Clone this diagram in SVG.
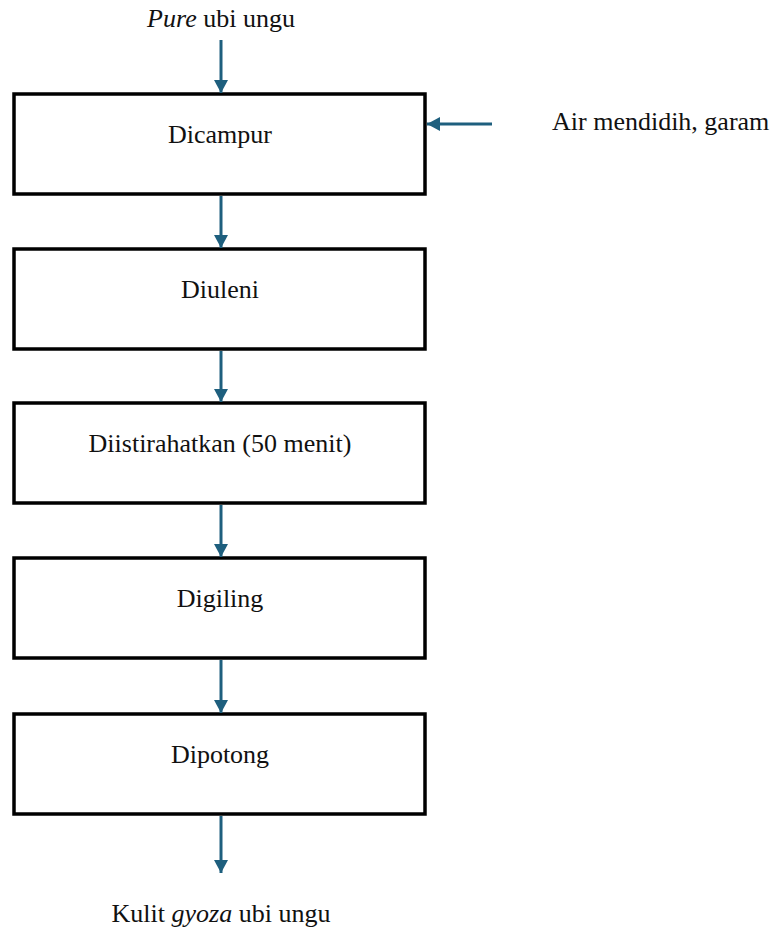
<svg xmlns="http://www.w3.org/2000/svg" width="782" height="931" viewBox="0 0 782 931">
<style>
.box{fill:#ffffff;stroke:#000000;stroke-width:3.5}
.lbl{font-family:"Liberation Serif","Times New Roman",serif;font-size:26px;fill:#111111;text-anchor:middle}
.side{font-family:"Liberation Serif","Times New Roman",serif;font-size:26px;fill:#111111}
.arr{stroke:#1e5f7e;stroke-width:3;fill:none;marker-end:url(#ah)}
</style>
<defs>
<marker id="ah" markerUnits="userSpaceOnUse" viewBox="0 0 13 14" refX="13" refY="7" markerWidth="13" markerHeight="14" orient="auto">
<path d="M0,0 L13,7 L0,14 z" fill="#1e5f7e"/>
</marker>
</defs>
<rect width="782" height="931" fill="#ffffff"/>
<g id="input-top"><text class="lbl" x="221" y="27"><tspan font-style="italic">Pure</tspan> ubi ungu</text></g>
<g id="input-side"><text class="side" x="552" y="130">Air mendidih, garam</text></g>
<g id="n1"><rect class="box" x="14" y="94" width="411" height="100"/><text class="lbl" x="220" y="143">Dicampur</text></g>
<g id="n2"><rect class="box" x="14" y="249" width="411" height="100"/><text class="lbl" x="220" y="298">Diuleni</text></g>
<g id="n3"><rect class="box" x="14" y="403" width="411" height="100"/><text class="lbl" x="220" y="452">Diistirahatkan (50 menit)</text></g>
<g id="n4"><rect class="box" x="14" y="558" width="411" height="100"/><text class="lbl" x="220" y="607">Digiling</text></g>
<g id="n5"><rect class="box" x="14" y="714" width="411" height="100"/><text class="lbl" x="220" y="763">Dipotong</text></g>
<g id="output"><text class="lbl" x="221" y="922">Kulit <tspan font-style="italic">gyoza</tspan> ubi ungu</text></g>
<g id="connectors">
<line class="arr" x1="221" y1="40" x2="221" y2="93"/>
<line class="arr" x1="492" y1="124" x2="427" y2="124"/>
<line class="arr" x1="221" y1="196" x2="221" y2="248"/>
<line class="arr" x1="221" y1="351" x2="221" y2="402"/>
<line class="arr" x1="221" y1="505" x2="221" y2="557"/>
<line class="arr" x1="221" y1="660" x2="221" y2="713"/>
<line class="arr" x1="221" y1="816" x2="221" y2="873"/>
</g>
</svg>
